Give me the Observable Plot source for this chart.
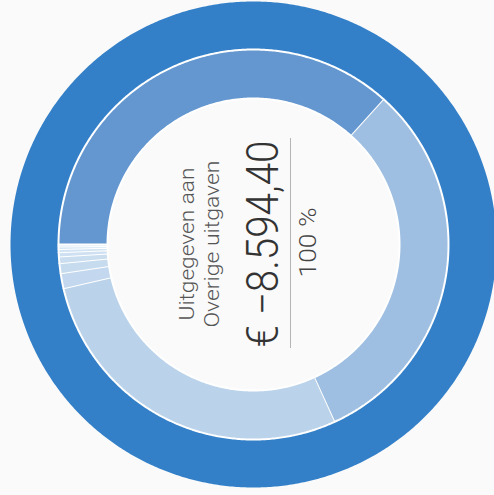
<!DOCTYPE html>
<html><head><meta charset="utf-8">
<script src="https://cdn.jsdelivr.net/npm/d3@7"></script>
<script src="https://cdn.jsdelivr.net/npm/@observablehq/plot@0.6"></script>
<style>
html,body{margin:0;padding:0;background:#fafafa;overflow:hidden}
</style></head><body><div id="chart"></div>
<script>
// ---- data ----
const parentLabel = "Overige uitgaven";
const parentTotal = -8594.40;
const childNames = ["Post 1","Post 2","Post 3","Post 4","Post 5","Post 6","Post 7","Post 8","Post 9","Post 10"];
const childValues = [-3152.1, -2709.6, -2423.1, -107.4, -71.6, -47.7, -28.6, -23.9, -16.7, -14.3];
const childColors = ["#6497cf","#9ebfe1","#bbd3ea","#c3d8ee","#c7dbef","#cadef0","#cee0f1","#d2e3f3","#d6e6f4","#dae8f5"];
const parentColor = "#3480c8";
const centerTitle = ["Uitgegeven aan", parentLabel];
const shareLabel = "100 %";

// ---- geometry helpers ----
const deg = Math.PI / 180;
function sector(a0, a1, r0, r1) {
  const n = Math.max(2, Math.ceil((a1 - a0) / 0.5));
  const pts = [];
  for (let i = 0; i <= n; i++) { const a = (a0 + (a1 - a0) * i / n) * deg; pts.push({x: r1 * Math.cos(a), y: -r1 * Math.sin(a)}); }
  for (let i = n; i >= 0; i--) { const a = (a0 + (a1 - a0) * i / n) * deg; pts.push({x: r0 * Math.cos(a), y: -r0 * Math.sin(a)}); }
  return pts;
}
const total = d3.sum(childValues);
const startAngle = 180;
let acc = startAngle;
const slices = childValues.map((v, i) => {
  const span = 360 * v / total;
  const s = {name: childNames[i], color: childColors[i], pts: sector(acc, acc + span, 146, 195)};
  acc += span;
  return s;
});
const ring = sector(0, 360, 195, 243);

const nl = d3.formatLocale({decimal: ",", thousands: ".", grouping: [3], currency: ["€ ", ""]});
const valueText = "€ " + nl.format(",.2f")(parentTotal);

const font = "Roboto, 'Noto Sans', sans-serif";
const chart = Plot.plot({
  width: 494, height: 495, margin: 0,
  x: {domain: [-253, 241], axis: null},
  y: {domain: [-251, 244], axis: null},
  style: {background: "#fafafa", fontFamily: font},
  marks: [
    Plot.line(ring, {x: "x", y: "y", fill: parentColor, stroke: "none"}),
    ...slices.map(s => Plot.line(s.pts, {x: "x", y: "y", fill: s.color, stroke: "white", strokeWidth: 2, strokeLinejoin: "miter"})),
    Plot.text([centerTitle[0]], {x: () => -66, y: () => 0.5, text: d => d, rotate: -90, fontSize: 20, fontWeight: 300, fill: "#555", className: "t1"}),
    Plot.text([centerTitle[1]], {x: () => -41, y: () => 0.5, text: d => d, rotate: -90, fontSize: 20, fontWeight: 300, fill: "#555", className: "t2"}),
    Plot.text([valueText], {x: () => 10, y: () => 0.5, text: d => d, rotate: -90, fontSize: 44, fontWeight: 300, fill: "#333", className: "t3"}),
    Plot.ruleX([37], {y1: -104, y2: 106, stroke: "#b5b5b5", strokeWidth: 1}),
    Plot.text([shareLabel], {x: () => 55, y: () => 2, text: d => d, rotate: -90, fontSize: 24, fontWeight: 300, fill: "#444", className: "t4"})
  ]
});
const lens = {t1: 153, t2: 167, t3: 207, t4: 70};
for (const [k, L] of Object.entries(lens)) {
  d3.select(chart).selectAll("." + k + " text").attr("textLength", L).attr("lengthAdjust", "spacingAndGlyphs");
}
document.getElementById("chart").appendChild(chart);
</script></body></html>
